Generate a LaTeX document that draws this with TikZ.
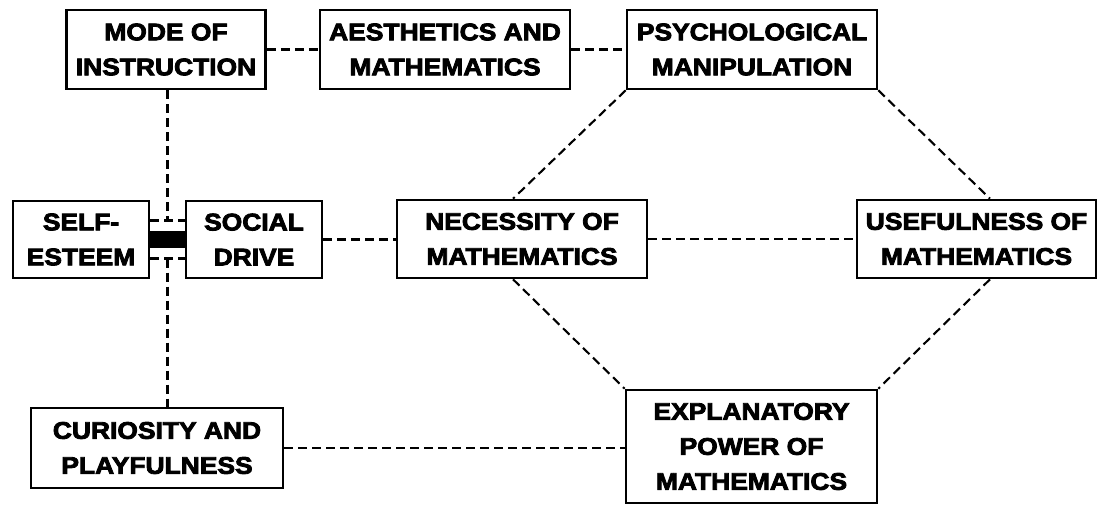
\documentclass[tikz,border=0pt]{standalone}
\usepackage{fontspec}
\newfontfamily\lblfont{Liberation Sans Bold}[FakeStretch=1.1,FakeBold=3.5]
\usetikzlibrary{calc}
\tikzset{
  box/.style={draw, line width=2.6pt, inner sep=0pt, align=center,
    font=\lblfont\fontsize{24}{35}\selectfont},
  conn/.style={draw, line width=2.1pt, dash pattern=on 9pt off 5pt}
}
\begin{document}
\begin{tikzpicture}[x=1pt,y=-1pt]
\useasboundingbox (0,0) rectangle (1099,506);
% top row
\node[box, minimum width=199pt, minimum height=79pt] (MODE) at (166,49.5) {MODE OF\\INSTRUCTION};
\node[box, minimum width=250pt, minimum height=79pt] (AES) at (445,49.5) {AESTHETICS AND\\MATHEMATICS};
\node[box, minimum width=250pt, minimum height=79pt] (PSY) at (752,49.5) {PSYCHOLOGICAL\\MANIPULATION};
% middle row
\node[box, minimum width=136pt, minimum height=77pt] (SELF) at (81,239.5) {SELF-\\ESTEEM};
\node[box, minimum width=136pt, minimum height=77pt] (SOC) at (254,239.5) {SOCIAL\\DRIVE};
\node[box, minimum width=250pt, minimum height=78pt] (NEC) at (522,239) {NECESSITY OF\\MATHEMATICS};
\node[box, minimum width=239pt, minimum height=78pt] (USE) at (976.5,239) {USEFULNESS OF\\MATHEMATICS};
% bottom row
\node[box, minimum width=252pt, minimum height=80pt] (CUR) at (157,448) {CURIOSITY AND\\PLAYFULNESS};
\node[box, minimum width=251pt, minimum height=113pt] (EXP) at (751.5,446.5) {EXPLANATORY\\POWER OF\\MATHEMATICS};
% self-esteem / social drive link
\draw[line width=17pt] (SELF.east) -- (SOC.west);
\draw[conn] ([yshift=19pt]SELF.east) -- ([yshift=19pt]SOC.west);
\draw[conn] ([yshift=-19pt]SELF.east) -- ([yshift=-19pt]SOC.west);
\coordinate (jt) at ($([yshift=19pt]SELF.east)!0.5!([yshift=19pt]SOC.west)$);
\coordinate (jb) at ($([yshift=-19pt]SELF.east)!0.5!([yshift=-19pt]SOC.west)$);
\draw[conn] (MODE.south -| jt) -- (jt);
\draw[conn] (jb) -- (CUR.north -| jb);
% other connectors
\draw[conn] (MODE.east) -- (AES.west);
\draw[conn] (AES.east) -- (PSY.west);
\draw[conn] (SOC.east) -- (SOC.east -| NEC.west);
\draw[conn] (NEC.east) -- (NEC.east -| USE.west);
\draw[conn] (CUR.east) -- (CUR.east -| EXP.west);
\draw[conn] (PSY.south west) -- ([xshift=-9pt]NEC.north);
\draw[conn] ([xshift=-9pt]NEC.south) -- (EXP.north west);
\draw[conn] (PSY.south east) -- ([xshift=13.5pt]USE.north);
\draw[conn] ([xshift=13.5pt]USE.south) -- (EXP.north east);
\end{tikzpicture}
\end{document}
